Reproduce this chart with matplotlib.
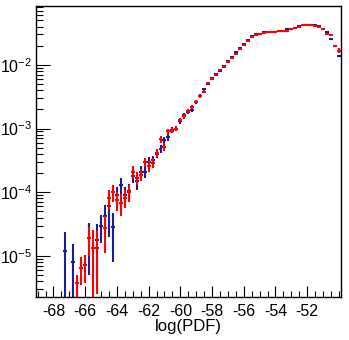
import numpy as np
import matplotlib
matplotlib.use("Agg")
import matplotlib.pyplot as plt
from matplotlib.ticker import MultipleLocator, LogLocator, NullFormatter

plt.rcParams['font.family'] = ['Liberation Sans', 'DejaVu Sans']
plt.rcParams['axes.unicode_minus'] = False
plt.rcParams['mathtext.default'] = 'regular'

# histogram bins: width 0.25 in log(PDF), first centre at -67.25
bin_width = 0.25
first_centre = -67.25
nan = np.nan

# blue histogram (contents and errors)
blue_vals = [1.2e-5, nan, 7.9e-6, nan, nan, nan, 1.9e-5, nan, 1.8e-5, 3.0e-5,
             4.3e-5, 6.0e-5, 2.8e-5, 9.1e-5, 1.3e-4, 9.0e-5, 1.03e-4, 1.8e-4, 1.5e-4, 2.1e-4,
             2.1e-4, 3.0e-4, 3.2e-4, 4.0e-4, 4.8e-4, 6.6e-4, 7.3e-4, 9.5e-4, 1.0e-3, 1.3e-3,
             1.64e-3, 1.85e-3, 1.96e-3, 2.6e-3, 3.3e-3, 4.2e-3, 5.0e-3, 6.2e-3, 7.1e-3, 8.0e-3,
             9.6e-3, 1.17e-2, 1.35e-2, 1.6e-2, 1.87e-2, 2.1e-2, 2.45e-2, 2.8e-2, 3.0e-2, 3.1e-2,
             3.25e-2, 3.3e-2, 3.3e-2, 3.3e-2, 3.35e-2, 3.4e-2, 3.6e-2, 3.65e-2, 3.85e-2, 4.05e-2,
             4.2e-2, 4.3e-2, 4.3e-2, 4.2e-2, 4.1e-2, 3.7e-2, 3.3e-2, 2.56e-2, 2.0e-2, 1.39e-2]
blue_errs = [1.2e-5, nan, 7.6e-6, nan, nan, nan, 1.4e-5, nan, 1.4e-5, 1.4e-5,
             2.0e-5, 4.0e-5, 2.0e-5, 3.0e-5, 3.5e-5, 3.0e-5, 3.0e-5, 4.0e-5, 4.0e-5, 4.5e-5,
             4.5e-5, 5.5e-5, 5.5e-5, 6.0e-5, 7.0e-5, 8.0e-5, 8.5e-5, 1.0e-4, 1.0e-4, 1.1e-4,
             1.3e-4, 1.4e-4, 1.4e-4, 1.6e-4, 1.8e-4, 2.0e-4, 2.2e-4, 2.5e-4, 2.7e-4, 2.8e-4,
             3.1e-4, 3.4e-4, 3.7e-4, 4.0e-4, 4.3e-4, 4.6e-4, 5.0e-4, 5.3e-4, 5.5e-4, 5.6e-4,
             5.7e-4, 5.7e-4, 5.7e-4, 5.7e-4, 5.8e-4, 5.8e-4, 6.0e-4, 6.0e-4, 6.2e-4, 6.4e-4,
             6.5e-4, 6.6e-4, 6.6e-4, 6.5e-4, 6.4e-4, 6.1e-4, 5.8e-4, 6.0e-4, 6.0e-4, 6.0e-4]

# red histogram (contents and errors)
red_vals = [nan, nan, nan, 3.7e-6, 6.5e-6, 7.1e-6, 1.9e-5, 1.35e-5, 1.35e-5, nan,
            2.7e-5, 8.0e-5, 1.0e-4, 7.5e-5, 6.8e-5, 8.2e-5, 1.0e-4, 2.1e-4, 1.7e-4, 1.9e-4,
            3.0e-4, 2.6e-4, 2.9e-4, 4.2e-4, 6.8e-4, 5.2e-4, 9.0e-4, 9.3e-4, 1.0e-3, 1.37e-3,
            1.55e-3, 1.9e-3, 2.2e-3, 2.65e-3, 3.2e-3, 3.8e-3, 5.2e-3, 6.0e-3, 7.0e-3, 8.3e-3,
            9.4e-3, 1.1e-2, 1.3e-2, 1.5e-2, 1.8e-2, 2.05e-2, 2.4e-2, 2.75e-2, 2.95e-2, 3.1e-2,
            3.2e-2, 3.25e-2, 3.3e-2, 3.3e-2, 3.35e-2, 3.4e-2, 3.4e-2, 3.7e-2, 3.8e-2, 4.0e-2,
            4.2e-2, 4.3e-2, 4.25e-2, 4.1e-2, 4.0e-2, 3.65e-2, 3.1e-2, 2.9e-2, 2.0e-2, 1.68e-2]
red_errs = [nan, nan, nan, 1.4e-6, 3.0e-6, 3.3e-6, 9.0e-6, 1.2e-5, 1.1e-5, nan,
            1.6e-5, 2.8e-5, 3.0e-5, 2.5e-5, 2.5e-5, 2.5e-5, 3.0e-5, 4.5e-5, 4.0e-5, 4.0e-5,
            5.0e-5, 5.0e-5, 5.0e-5, 6.0e-5, 8.0e-5, 7.0e-5, 9.0e-5, 9.0e-5, 1.0e-4, 1.1e-4,
            1.2e-4, 1.3e-4, 1.4e-4, 1.5e-4, 1.7e-4, 1.8e-4, 2.1e-4, 2.3e-4, 2.5e-4, 2.7e-4,
            2.9e-4, 3.1e-4, 3.4e-4, 3.7e-4, 4.0e-4, 4.3e-4, 4.6e-4, 5.0e-4, 5.2e-4, 5.3e-4,
            5.4e-4, 5.5e-4, 5.5e-4, 5.5e-4, 5.6e-4, 5.6e-4, 5.6e-4, 5.9e-4, 6.0e-4, 6.2e-4,
            6.4e-4, 6.5e-4, 6.5e-4, 6.4e-4, 6.3e-4, 6.0e-4, 1.0e-3, 1.0e-3, 8.0e-4, 1.5e-3]

x_ticks = [-68, -66, -64, -62, -60, -58, -56, -54, -52]

centres = first_centre + bin_width * np.arange(len(blue_vals))

fig = plt.figure(figsize=(3.49, 3.40), dpi=100)
ax = fig.add_axes([0.1032, 0.1265, 0.8738, 0.8559])


def draw_hist(vals, errs, color):
    v = np.array(vals)
    e = np.array(errs)
    ok = ~np.isnan(v)
    v, e, x = v[ok], e[ok], centres[ok]
    lower = np.minimum(e, v * 0.999)
    ax.errorbar(x, v, xerr=bin_width / 2, yerr=[lower, e], fmt='none',
                ecolor=color, elinewidth=1.5, capsize=0)


draw_hist(blue_vals, blue_errs, '#1c1c96')
draw_hist(red_vals, red_errs, '#ff0000')

ax.set_yscale('log')
ax.set_xlim(-69.1, -49.87)
ax.set_ylim(2.27e-6, 0.084)

ax.set_xticks(x_ticks)
ax.xaxis.set_minor_locator(MultipleLocator(0.5))
ax.yaxis.set_major_locator(LogLocator(base=10, numticks=20))
ax.yaxis.set_minor_locator(LogLocator(base=10, subs=np.arange(2, 10), numticks=20))
ax.yaxis.set_minor_formatter(NullFormatter())

ax.tick_params(which='both', direction='in', top=False, right=False, labelsize=11.5)
ax.tick_params(axis='y', which='major', length=10, width=0.8, pad=3)
ax.tick_params(axis='y', which='minor', length=5, width=0.8)
ax.tick_params(axis='x', which='major', length=8, width=0.8, pad=5)
ax.tick_params(axis='x', which='minor', length=4, width=0.8)
for sp in ax.spines.values():
    sp.set_linewidth(1.0)

ax.set_xlabel('log(PDF)', fontsize=12, labelpad=0)

fig.savefig('out.png', dpi=100)
